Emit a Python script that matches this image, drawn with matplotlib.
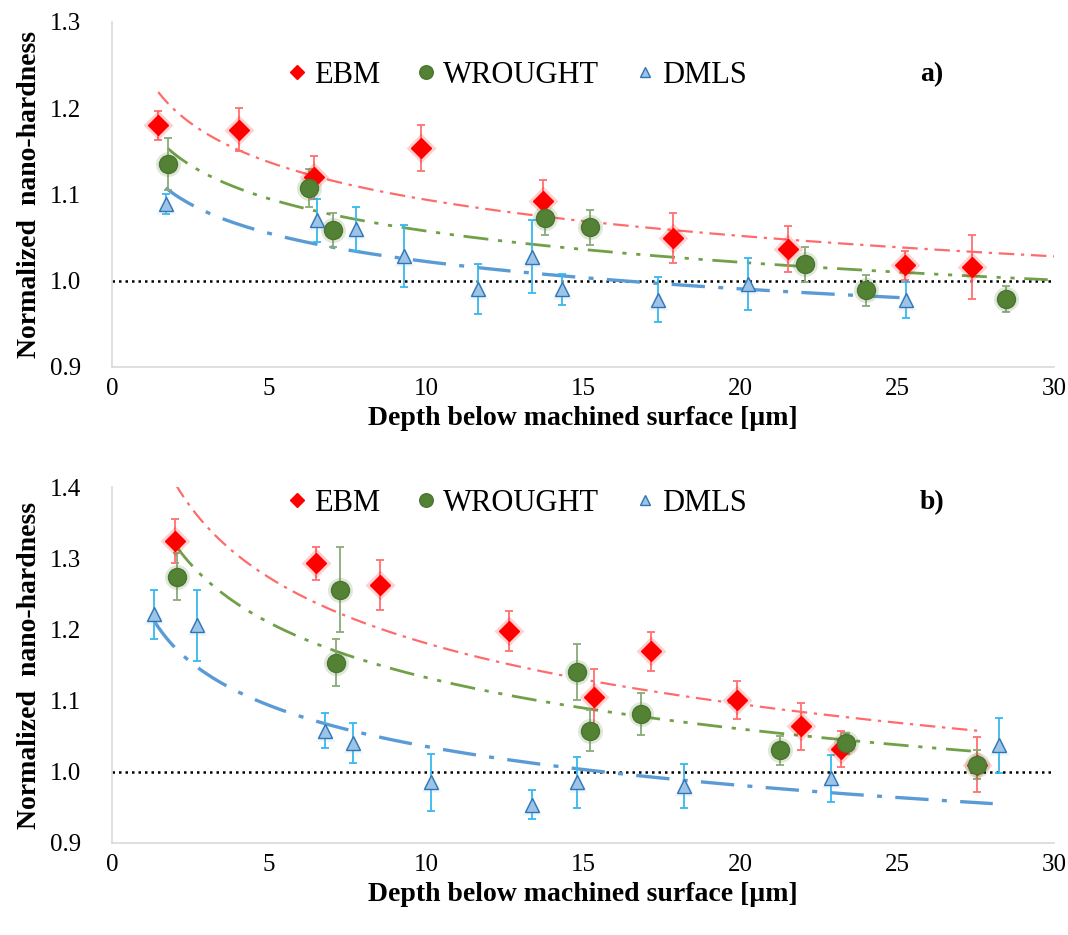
import numpy as np
import matplotlib
matplotlib.use("Agg")
import matplotlib.pyplot as plt
from matplotlib.lines import Line2D

plt.rcParams['font.family'] = ['Liberation Serif', 'DejaVu Serif']

# ---- panel a) ----
a_ebm_x = [1.47, 4.05, 6.42, 9.83, 13.71, 17.88, 21.52, 25.25, 27.40]
a_ebm_y = [1.180, 1.175, 1.120, 1.154, 1.092, 1.050, 1.037, 1.018, 1.016]
a_ebm_e = [0.017, 0.025, 0.025, 0.027, 0.025, 0.029, 0.027, 0.017, 0.037]

a_wr_x = [1.77, 6.27, 7.03, 13.79, 15.21, 22.06, 24.02, 28.47]
a_wr_y = [1.135, 1.107, 1.059, 1.073, 1.062, 1.019, 0.989, 0.979]
a_wr_e = [0.030, 0.022, 0.020, 0.020, 0.020, 0.020, 0.018, 0.015]

a_dm_x = [1.71, 6.52, 7.77, 9.31, 11.66, 13.38, 14.32, 17.38, 20.27, 25.28]
a_dm_y = [1.089, 1.070, 1.060, 1.029, 0.990, 1.028, 0.990, 0.978, 0.996, 0.978]
a_dm_e = [0.012, 0.025, 0.025, 0.036, 0.029, 0.042, 0.018, 0.026, 0.030, 0.021]

# ---- panel b) ----
b_ebm_x = [2.02, 6.48, 8.54, 12.65, 15.34, 17.18, 19.89, 21.93, 23.23, 27.55]
b_ebm_y = [1.324, 1.293, 1.262, 1.198, 1.105, 1.169, 1.101, 1.064, 1.032, 1.010]
b_ebm_e = [0.031, 0.023, 0.035, 0.028, 0.039, 0.027, 0.027, 0.033, 0.025, 0.039]

b_wr_x = [2.06, 7.26, 7.14, 14.80, 15.23, 16.84, 21.26, 23.36, 27.55]
b_wr_y = [1.274, 1.256, 1.153, 1.140, 1.058, 1.081, 1.030, 1.040, 1.010]
b_wr_e = [0.033, 0.060, 0.033, 0.039, 0.029, 0.030, 0.020, 0.015, 0.020]

b_dm_x = [1.34, 2.72, 6.79, 7.66, 10.17, 13.37, 14.82, 18.22, 22.91, 28.26]
b_dm_y = [1.221, 1.206, 1.058, 1.040, 0.985, 0.954, 0.985, 0.980, 0.991, 1.037]
b_dm_e = [0.034, 0.050, 0.024, 0.028, 0.040, 0.020, 0.036, 0.031, 0.033, 0.039]

# where each power trendline stops
a_trend_end = [30.0, 29.8, 25.3]
b_trend_end = [27.55, 27.55, 28.05]

series_names = ['EBM', 'WROUGHT', 'DMLS']

STYLE = [
    dict(marker='D', mfc='#FF0000', mec='#FF0000', ms=10, ecol='#FF6F6F',
         lcol='#FF6B6B', ls=(0, (7, 3, 1.5, 3)), lw=1.6),
    dict(marker='o', mfc='#548235', mec='#4A7530', ms=13, ecol='#8AAA7A',
         lcol='#70A047', ls=(0, (9, 3.5, 1.5, 3.5, 1.5, 3.5)), lw=2.0),
    dict(marker='^', mfc='#9DC3E6', mec='#2E75B6', ms=10, ecol='#35B8F0',
         lcol='#5B9BD5', ls=(0, (10, 4, 1.5, 4)), lw=2.4),
]


def power_fit(x, y):
    b, ln_a = np.polyfit(np.log(x), np.log(y), 1)
    return np.exp(ln_a), b


def draw_panel(ax, data, ends, ylim, yticks, tag, leg_y):
    ax.axhline(1.0, color='black', ls=(0, (1, 1.6)), lw=1.8, zorder=1)
    for (x, y, e), end, st in zip(data, ends, STYLE):
        a, b = power_fit(x, y)
        xs = np.linspace(x[0], end, 200)
        ax.plot(xs, a * xs ** b, color=st['lcol'], ls=st['ls'], lw=st['lw'], zorder=2)
        ax.errorbar(x, y, yerr=e, fmt='none', ecolor=st['ecol'], elinewidth=1.3,
                    capsize=3, capthick=1.3, zorder=3)
        # soft glow behind the markers
        ax.plot(x, y, ls='none', marker=st['marker'], mfc=st['mfc'], mec='none',
                ms=st['ms'] + 5, alpha=0.18, zorder=3.5)
        ax.plot(x, y, ls='none', marker=st['marker'], mfc=st['mfc'],
                mec=st['mec'], ms=st['ms'], mew=1.0, zorder=4)

    handles = [Line2D([], [], ls='none', marker=st['marker'], mfc=st['mfc'],
                      mec=st['mec'], ms=st['ms'] * 0.75) for st in STYLE]
    ax.legend(handles, series_names, loc='center', bbox_to_anchor=(0.427, leg_y),
              ncol=3, frameon=False, fontsize=22, handletextpad=0.05,
              columnspacing=1.0, handlelength=1.0)
    ax.text(0.87, leg_y, tag, transform=ax.transAxes, fontsize=20,
            fontweight='bold', ha='center', va='center')

    ax.set_xlim(0, 30)
    ax.set_ylim(*ylim)
    ax.set_xticks(range(0, 31, 5))
    ax.set_yticks(yticks)
    ax.yaxis.set_major_formatter(matplotlib.ticker.FormatStrFormatter('%.1f'))
    ax.tick_params(length=0, labelsize=18, pad=8)
    ax.tick_params(axis='y', pad=22)
    for s in ['top', 'right']:
        ax.spines[s].set_visible(False)
    for s in ['left', 'bottom']:
        ax.spines[s].set_color('#D9D9D9')
        ax.spines[s].set_linewidth(1.2)
    ax.set_xlabel('Depth below machined surface [µm]', fontsize=20,
                  fontweight='bold', labelpad=4)
    ax.set_ylabel('Normalized  nano-hardness', fontsize=20, fontweight='bold',
                  labelpad=6)


fig = plt.figure(figsize=(10.68, 9.35), dpi=100)
ax1 = fig.add_axes([0.1049, 0.6075, 0.882, 0.369])
ax2 = fig.add_axes([0.1049, 0.0984, 0.882, 0.3807])

draw_panel(ax1,
           [(a_ebm_x, a_ebm_y, a_ebm_e), (a_wr_x, a_wr_y, a_wr_e), (a_dm_x, a_dm_y, a_dm_e)],
           a_trend_end, (0.9, 1.3), [0.9, 1.0, 1.1, 1.2, 1.3], 'a)', 0.846)
draw_panel(ax2,
           [(b_ebm_x, b_ebm_y, b_ebm_e), (b_wr_x, b_wr_y, b_wr_e), (b_dm_x, b_dm_y, b_dm_e)],
           b_trend_end, (0.9, 1.4), [0.9, 1.0, 1.1, 1.2, 1.3, 1.4], 'b)', 0.955)

fig.savefig('out.png', dpi=100, facecolor='white')
